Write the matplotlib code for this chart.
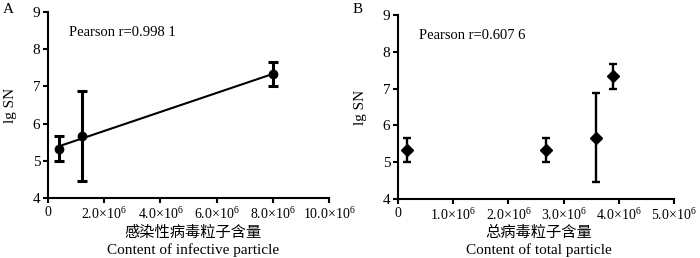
import numpy as np
import matplotlib
matplotlib.use("Agg")
import matplotlib.pyplot as plt
from matplotlib.ticker import FuncFormatter

plt.rcParams['font.family'] = ['Liberation Serif', 'Noto Sans CJK SC']
plt.rcParams['mathtext.fontset'] = 'custom'
plt.rcParams['mathtext.rm'] = 'Liberation Serif'
plt.rcParams['mathtext.it'] = 'Liberation Serif:italic'

### Data ###
inf_x = [0.4e6, 1.2e6, 8.0e6]
inf_y = [5.33, 5.67, 7.33]
inf_lo = [5.0, 4.47, 7.0]
inf_hi = [5.67, 6.87, 7.67]

tot_x = [0.17e6, 2.68e6, 3.59e6, 3.89e6]
tot_y = [5.33, 5.33, 5.67, 7.33]
tot_lo = [5.0, 5.0, 4.47, 7.0]
tot_hi = [5.67, 5.67, 6.87, 7.67]

inf_ticks = [0, 2e6, 4e6, 6e6, 8e6, 10e6]
tot_ticks = [0, 1e6, 2e6, 3e6, 4e6, 5e6]


def sci(v, pos):
    if v == 0:
        return '0'
    return '%.1f×10$^{6}$' % (v / 1e6)


def style(ax, ticks):
    for s in ['top', 'right']:
        ax.spines[s].set_visible(False)
    for s in ['left', 'bottom']:
        ax.spines[s].set_linewidth(1.5)
    ax.tick_params(width=1.5, length=3.5, pad=2)
    ax.tick_params(axis='y', labelsize=11)
    ax.tick_params(axis='x', labelsize=10)
    ax.set_ylim(4, 9)
    ax.set_yticks([4, 5, 6, 7, 8, 9])
    ax.set_xlim(ticks[0], ticks[-1])
    ax.set_xticks(ticks)
    ax.xaxis.set_major_formatter(FuncFormatter(sci))
    for lab in ax.get_xticklabels():
        lab.set_clip_on(False)
    ax.set_ylabel('lg SN', fontsize=11, labelpad=11)


fig = plt.figure(figsize=(7, 2.58), dpi=100)
ax1 = fig.add_axes([0.0686, 0.2326, 0.4014, 0.7204])
ax2 = fig.add_axes([0.5686, 0.2287, 0.3943, 0.7133])

# panel A
err = [np.array(inf_y) - np.array(inf_lo), np.array(inf_hi) - np.array(inf_y)]
ax1.errorbar(inf_x, inf_y, yerr=err, fmt='o', color='black', ms=6,
             elinewidth=2.2, capsize=3.6, capthick=2.2, zorder=3)
k, b = np.polyfit(inf_x, inf_y, 1)
xs = np.array([inf_x[0], inf_x[-1]])
ax1.plot(xs, k * xs + b, color='black', lw=1.5)
style(ax1, inf_ticks)
ax1.text(0.075, 0.87, 'Pearson r=0.998 1', transform=ax1.transAxes, fontsize=10.5)

# panel B
err = [np.array(tot_y) - np.array(tot_lo), np.array(tot_hi) - np.array(tot_y)]
ax2.errorbar(tot_x, tot_y, yerr=err, fmt='D', color='black', ms=6.5,
             elinewidth=1.7, capsize=3.2, capthick=1.7)
style(ax2, tot_ticks)
ax2.text(0.075, 0.87, 'Pearson r=0.607 6', transform=ax2.transAxes, fontsize=10.5)

fig.text(0.004, 0.99, 'A', fontsize=11, va='top')
fig.text(0.503, 0.99, 'B', fontsize=11, va='top')

fig.text(0.276, 0.10, '感染性病毒粒子含量', ha='center', va='center', fontsize=11,
         family=['Noto Sans CJK SC'])
fig.text(0.276, 0.03, 'Content of infective particle', ha='center', va='center', fontsize=11)
fig.text(0.77, 0.10, '总病毒粒子含量', ha='center', va='center', fontsize=11,
         family=['Noto Sans CJK SC'])
fig.text(0.77, 0.03, 'Content of total particle', ha='center', va='center', fontsize=11)

fig.savefig('out.png', dpi=100)
